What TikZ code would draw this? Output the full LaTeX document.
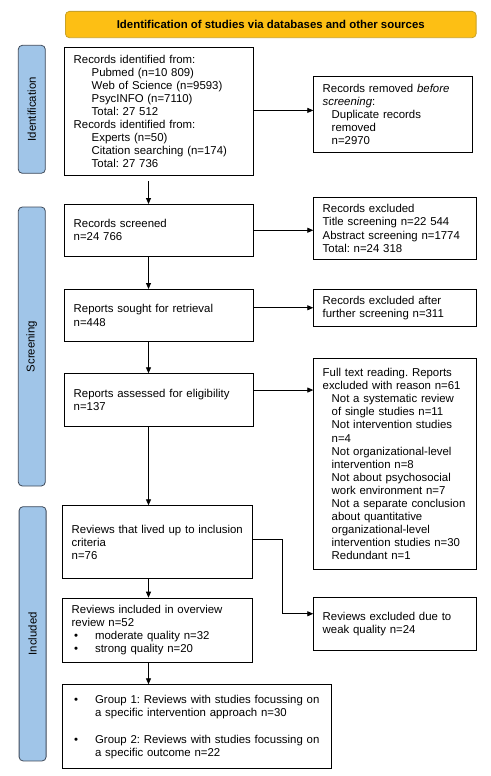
\documentclass[tikz,border=0pt]{standalone}
\usepackage{fontspec}
\setmainfont{Liberation Sans}
\usepackage{tikz}
\usetikzlibrary{arrows.meta,positioning,calc}
\definecolor{prismayellow}{RGB}{253,191,20}
\definecolor{prismagold}{RGB}{201,162,39}
\definecolor{prismablue}{RGB}{160,197,232}
\definecolor{prismaslate}{RGB}{63,74,90}
\newcommand{\ind}[1][9pt]{\hspace*{#1}}
\newcommand{\bul}{\makebox[23.4pt][l]{\hspace*{2.5pt}\textbullet}}
\frenchspacing

\begin{document}
\begin{tikzpicture}[x=1pt, y=-1pt,
  box/.style={draw, line width=0.8pt, inner xsep=9pt, inner ysep=2pt, align=left, anchor=north west, font=\fontsize{11.4}{13.1}\selectfont},
  phase/.style={draw=prismaslate, fill=prismablue, line width=0.8pt, rounded corners=4pt, rotate=90, minimum height=27pt, inner sep=0pt, font=\fontsize{11.4}{13.1}\selectfont},
  arr/.style={-{Triangle[length=6pt,width=5pt]}, line width=0.8pt}
]
\useasboundingbox (0,0) rectangle (490,776);

\node[draw=prismagold, fill=prismayellow, rounded corners=4pt, line width=0.8pt, minimum width=410.7pt, minimum height=26.3pt, anchor=north west, font=\bfseries\fontsize{11.4}{13.1}\selectfont] (head) at (65,11) {Identification of studies via databases and other sources};

\node[phase, minimum width=128pt] (sideid) at (31.8,109.3) {Identification};
\node[phase, minimum width=279pt] (sidescr) at (31.8,346.5) {Screening};
\node[phase, minimum width=254.3pt] (sideinc) at (32.6,633.8) {Included};

\node[box, text width=171pt, minimum height=128.6pt] (ident) at (64.3,46.7) {Records identified from:\\
\ind[18pt]Pubmed (n=10 809)\\
\ind[18pt]Web of Science (n=9593)\\
\ind[18pt]PsycINFO (n=7110)\\
\ind[18pt]Total: 27 512\\
Records identified from:\\
\ind[18pt]Experts (n=50)\\
\ind[18pt]Citation searching (n=174)\\
\ind[18pt]Total: 27 736};
\node[box, text width=140.4pt, minimum height=76.3pt] (removed) at (313.3,76) {Records removed \textit{before}\\
\textit{screening}:\\
\ind Duplicate records\\
\ind removed\\
\ind n=2970};

\node[box, text width=171pt, minimum height=51.7pt] (screen) at (64.3,204) {Records screened\\n=24 766};
\node[box, text width=144.4pt, minimum height=62pt] (excl) at (313.3,197) {Records excluded\\
Title screening n=22 544\\
Abstract screening n=1774\\
Total: n=24 318};

\node[box, text width=171pt, minimum height=52pt] (sought) at (64.3,289) {Reports sought for retrieval\\n=448};
\node[box, text width=144.4pt, minimum height=37.3pt] (after) at (313.3,288.7) {Records excluded after\\further screening n=311};

\node[box, text width=171pt, minimum height=52.7pt] (assess) at (64.3,373.3) {Reports assessed for eligibility\\n=137};
\node[box, text width=144.4pt, minimum height=211pt] (fulltext) at (313.3,358.3) {Full text reading. Reports\\
excluded with reason n=61\\
\ind Not a systematic review\\
\ind of single studies n=11\\
\ind Not intervention studies\\
\ind n=4\\
\ind Not organizational-level\\
\ind intervention n=8\\
\ind Not about psychosocial\\
\ind work environment n=7\\
\ind Not a separate conclusion\\
\ind about quantitative\\
\ind organizational-level\\
\ind intervention studies n=30\\
\ind Redundant n=1};

\node[box, text width=171.4pt, minimum height=73pt] (incl) at (62.3,505.3) {Reviews that lived up to inclusion\\criteria\\n=76};
\node[box, text width=171.4pt, minimum height=64pt] (overview) at (62.3,597.7) {Reviews included in overview\\
review n=52\\
\bul moderate quality n=32\\
\bul strong quality n=20};
\node[box, text width=144.4pt, minimum height=53.3pt] (weak) at (313.3,596.7) {Reviews excluded due to\\weak quality n=24};
\node[box, text width=250.7pt, minimum height=84pt] (groups) at (62.3,684.3) {\bul Group 1: Reviews with studies focussing on\\
\ind[23.4pt]a specific intervention approach n=30\\[14pt]
\bul Group 2: Reviews with studies focussing on\\
\ind[23.4pt]a specific outcome n=22};

\coordinate (spine) at (148.5,0);
\draw[arr, shorten <=5pt] (ident.south -| spine) -- (screen.north -| spine);
\draw[arr] (screen.south -| spine) -- (sought.north -| spine);
\draw[arr] (sought.south -| spine) -- (assess.north -| spine);
\draw[arr] (assess.south -| spine) -- (incl.north -| spine);
\draw[arr] (incl.south -| spine) -- (overview.north -| spine);
\draw[arr] (overview.south -| spine) -- (groups.north -| spine);

\draw[arr] ([yshift=1pt]ident.east) -- ([yshift=1pt]ident.east -| removed.west);
\draw[arr] (screen.east) -- (screen.east -| excl.west);
\draw[arr] (after.west -| sought.east) -- (after.west);
\draw[arr] ([yshift=10pt]assess.east) -- ([yshift=10pt]assess.east -| fulltext.west);
\draw[arr] ([yshift=2.5pt]incl.east) -- ++(30,0) |- ([yshift=10pt]weak.west);
\end{tikzpicture}
\end{document}
